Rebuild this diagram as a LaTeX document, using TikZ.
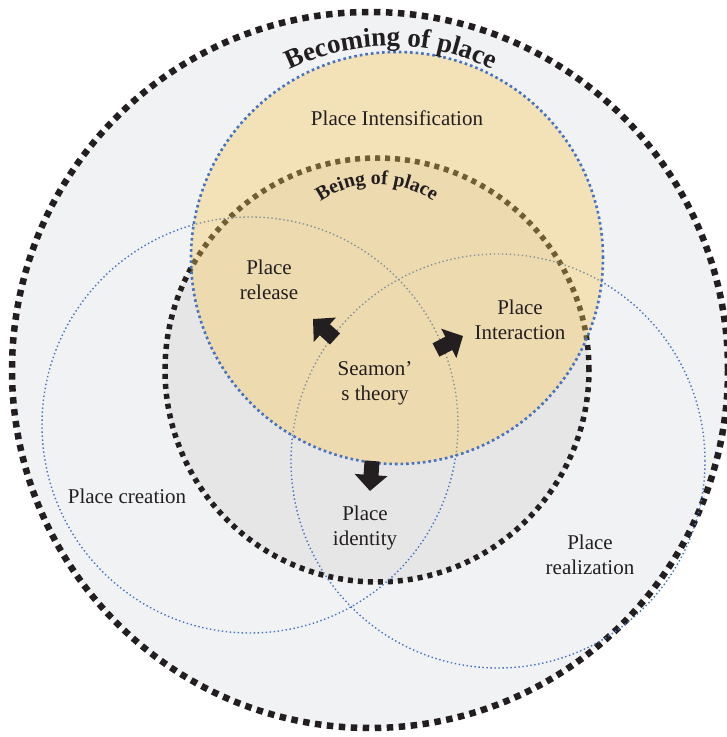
\documentclass[tikz,border=0pt]{standalone}
\usepackage{fontspec}
\setmainfont{Liberation Serif}
\usetikzlibrary{decorations.text,arrows.meta}
\definecolor{outerfill}{HTML}{F1F2F4}
\definecolor{beingfill}{HTML}{E6E6E6}
\definecolor{ylw}{HTML}{F9C851}
\definecolor{blu}{HTML}{4472C4}
\definecolor{ink}{HTML}{231F20}
\begin{document}
\begin{tikzpicture}[x=1pt,y=1pt,
  bigdash/.style={line width=6.5pt, dash pattern=on 6.5pt off 5.5pt, draw=ink},
  meddash/.style={line width=5.5pt, dash pattern=on 5pt off 5pt, draw=ink},
  bluedot/.style={draw=blu, line width=1.4pt, dash pattern=on 1.4pt off 2.6pt},
  bluedotthick/.style={draw=blu, line width=2.6pt, dash pattern=on 2.6pt off 3pt},
  ring/.style={circle, inner sep=0pt, outer sep=0pt},
  lbl/.style={font=\fontsize{21}{25}\selectfont, text=ink, align=center, inner sep=0pt},
  fat/.style={draw=ink, fill=ink, line width=15pt, -{Triangle[width=32pt,length=16pt]}}]
\useasboundingbox (0,0) rectangle (727,737);
\fill[white] (0,0) rectangle (727,737);
% circles
\node[ring, minimum size=716pt, fill=outerfill, bigdash] (becoming) at (370,367) {};
\node[ring, minimum size=424pt, fill=beingfill, meddash] (being) at (377,367) {};
\node[ring, minimum size=416pt, bluedot] (creation) at (250,312) {};
\node[ring, minimum size=414pt, bluedot] (realization) at (498,276) {};
\node[ring, minimum size=412pt, fill=ylw, fill opacity=0.37, bluedotthick] (intens) at (397,479) {};
% curved titles
\path[decorate, decoration={text along path, text align=center,
  text={|\fontsize{27}{27}\selectfont\bfseries\color{ink}|Becoming of place}}]
  (391,461) ++(130:230) arc[start angle=130, end angle=50, radius=230];
\path[decorate, decoration={text along path, text align=center,
  text={|\fontsize{20}{20}\selectfont\bfseries\color{ink}|Being of place}}]
  (377,453) ++(145:100) arc[start angle=145, end angle=35, radius=100];
% labels
\node[lbl] (tIntens) at (397,619) {Place Intensification};
\node[lbl] (tRelease) at (269,457) {Place\\release};
\node[lbl] (tInter) at (520,417) {Place\\Interaction};
\node[lbl] (tSeamon) at (375,354) {Seamon’\\s theory};
\node[lbl] (tCreation) at (127,241) {Place creation};
\node[lbl] (tIdentity) at (365,209) {Place\\identity};
\node[lbl] (tReal) at (590,182) {Place\\realization};
% arrows
\coordinate (a1s) at (335,398);
\coordinate (a1e) at (313,418);
\coordinate (a2s) at (436,387);
\coordinate (a2e) at (463,401);
\coordinate (a3s) at (372,276);
\coordinate (a3e) at (370,246);
\draw[fat] (a1s) -- (a1e);
\draw[fat] (a2s) -- (a2e);
\draw[fat] (a3s) -- (a3e);
\end{tikzpicture}
\end{document}
